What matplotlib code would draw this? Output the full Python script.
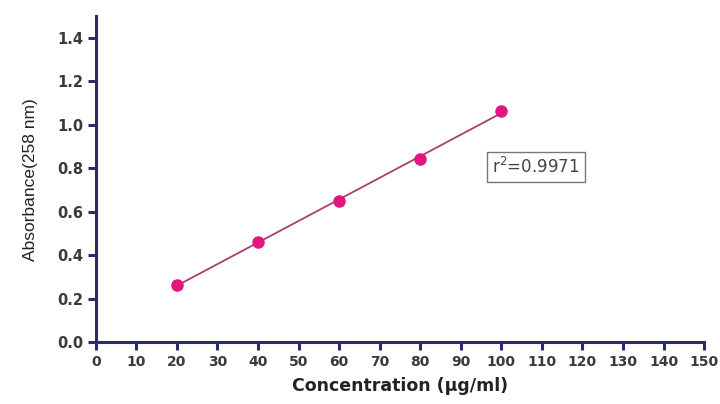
import matplotlib.pyplot as plt
import numpy as np

plt.rcParams['font.family'] = ['DejaVu Sans']

# Data
conc = np.array([20, 40, 60, 80, 100])
absorbance = np.array([0.265, 0.46, 0.65, 0.845, 1.065])
r2_text = 'r$^2$=0.9971'

axis_col = '#2b2d6b'
dot_col = '#e2167c'
line_col = '#a8406e'

fig = plt.figure(figsize=(7.2, 4.04), dpi=100)
ax = fig.add_axes([0.133, 0.153, 0.845, 0.807])

# regression line through the points
slope, intercept = np.polyfit(conc, absorbance, 1)
ax.plot(conc, slope * conc + intercept, color=line_col, lw=1.3, zorder=2)
ax.plot(conc, absorbance, 'o', color=dot_col, markersize=8, zorder=3)

ax.set_xlim(0, 150)
ax.set_ylim(0, 1.5)
ax.set_xticks(np.arange(0, 151, 10))
ax.set_yticks(np.arange(0, 1.41, 0.2))
ax.set_yticklabels([f'{v:.1f}' for v in np.arange(0, 1.41, 0.2)])

for s in ['top', 'right']:
    ax.spines[s].set_visible(False)
for s in ['left', 'bottom']:
    ax.spines[s].set_color(axis_col)
    ax.spines[s].set_linewidth(2.2)

ax.tick_params(direction='out', length=6, width=2.2, color=axis_col,
               labelcolor='#3a3a3a', pad=3)
ax.tick_params(axis='y', labelsize=10.5)
ax.tick_params(axis='x', labelsize=10)
for lab in ax.get_xticklabels() + ax.get_yticklabels():
    lab.set_fontweight('bold')

ax.set_xlabel('Concentration (µg/ml)', fontsize=12.5, fontweight='bold',
              color='#222222', labelpad=6)
ax.set_ylabel('Absorbance(258 nm)', fontsize=12.5, family='Liberation Sans',
              color='#222222', labelpad=14)

ax.text(108.5, 0.805, r2_text, fontsize=12, color='#444444', ha='center', va='center',
        bbox=dict(boxstyle='square,pad=0.3', facecolor='white', edgecolor='#777777', lw=1))

fig.savefig('out.png', dpi=100)
